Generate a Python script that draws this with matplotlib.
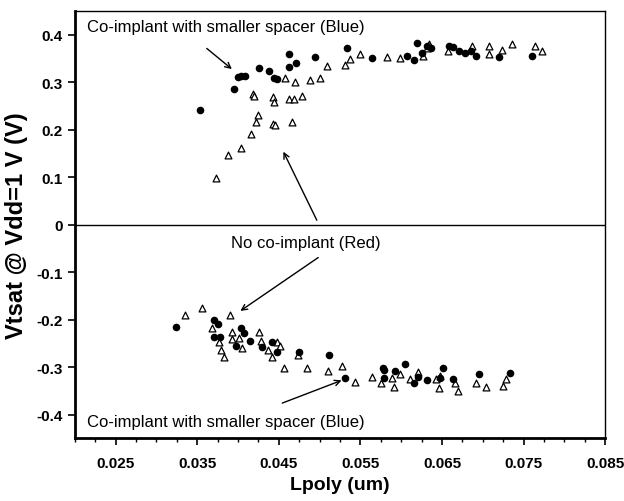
import matplotlib
matplotlib.use("Agg")
import matplotlib.pyplot as plt
from matplotlib.ticker import MultipleLocator, FixedLocator

plt.rcParams['font.family'] = ['Liberation Sans Narrow', 'Liberation Sans', 'DejaVu Sans']

# filled circles (co-implant with smaller spacer)
dot_x = [0.0353, 0.0395, 0.0400, 0.0404, 0.0408, 0.0426, 0.0438, 0.0444, 0.0448,
         0.0462, 0.0462, 0.0471, 0.0494, 0.0534, 0.0564, 0.0607, 0.0616, 0.0619,
         0.0625, 0.0631, 0.0636, 0.0658, 0.0663, 0.0671, 0.0678, 0.0685, 0.0692,
         0.0720, 0.0760,
         0.0324, 0.0371, 0.0375, 0.0371, 0.0378, 0.0398, 0.0403, 0.0407, 0.0415,
         0.0429, 0.0442, 0.0448, 0.0475, 0.0511, 0.0531, 0.0577, 0.0579, 0.0579,
         0.0592, 0.0605, 0.0616, 0.0620, 0.0631, 0.0648, 0.0651, 0.0663, 0.0695,
         0.0733]
dot_y = [0.241, 0.286, 0.312, 0.313, 0.314, 0.331, 0.324, 0.309, 0.307,
         0.360, 0.332, 0.340, 0.354, 0.373, 0.352, 0.355, 0.347, 0.383,
         0.361, 0.376, 0.373, 0.376, 0.375, 0.366, 0.362, 0.366, 0.356,
         0.354, 0.355,
         -0.215, -0.201, -0.210, -0.236, -0.236, -0.255, -0.217, -0.229, -0.246,
         -0.257, -0.248, -0.268, -0.269, -0.275, -0.324, -0.303, -0.306, -0.324,
         -0.308, -0.294, -0.333, -0.321, -0.327, -0.324, -0.303, -0.326, -0.315,
         -0.312]

# open triangles (no co-implant)
tri_x = [0.0373, 0.0388, 0.0403, 0.0416, 0.0418, 0.0419, 0.0422, 0.0425, 0.0443,
         0.0444, 0.0443, 0.0445, 0.0457, 0.0462, 0.0466, 0.0469, 0.0470, 0.0478,
         0.0488, 0.0501, 0.0509, 0.0531, 0.0537, 0.0549, 0.0583, 0.0599, 0.0627,
         0.0631, 0.0634, 0.0657, 0.0687, 0.0708, 0.0707, 0.0724, 0.0736, 0.0764,
         0.0773,
         0.0335, 0.0356, 0.0368, 0.0377, 0.0379, 0.0383, 0.0390, 0.0392, 0.0393,
         0.0401, 0.0405, 0.0426, 0.0428, 0.0437, 0.0441, 0.0448, 0.0451, 0.0456,
         0.0473, 0.0484, 0.0510, 0.0527, 0.0543, 0.0564, 0.0575, 0.0589, 0.0591,
         0.0599, 0.0611, 0.0620, 0.0643, 0.0646, 0.0648, 0.0666, 0.0670, 0.0691,
         0.0704, 0.0725, 0.0728]
tri_y = [0.098, 0.146, 0.161, 0.192, 0.276, 0.271, 0.216, 0.232, 0.269,
         0.258, 0.213, 0.209, 0.309, 0.264, 0.216, 0.264, 0.300, 0.271,
         0.305, 0.309, 0.335, 0.337, 0.348, 0.359, 0.354, 0.352, 0.355,
         0.373, 0.381, 0.366, 0.376, 0.376, 0.360, 0.368, 0.380, 0.376,
         0.366,
         -0.191, -0.175, -0.217, -0.248, -0.264, -0.278, -0.191, -0.227, -0.241,
         -0.238, -0.259, -0.227, -0.245, -0.264, -0.278, -0.248, -0.255, -0.301,
         -0.275, -0.303, -0.308, -0.298, -0.331, -0.322, -0.333, -0.324, -0.341,
         -0.315, -0.326, -0.310, -0.326, -0.345, -0.319, -0.333, -0.350, -0.334,
         -0.341, -0.339, -0.326]

x_ticks = [0.025, 0.035, 0.045, 0.055, 0.065, 0.075, 0.085]
y_ticks = [-0.4, -0.3, -0.2, -0.1, 0, 0.1, 0.2, 0.3, 0.4]
y_labels = ['-0.4', '-0.3', '-0.2', '-0.1', '0', '0.1', '0.2', '0.3', '0.4']

fig = plt.figure(figsize=(6.24, 5.02), dpi=100)
ax = fig.add_axes([0.120, 0.125, 0.850, 0.851])

ax.axhline(0, color='black', lw=1.0)
ax.scatter(tri_x, tri_y, marker='^', s=24, facecolors='white', edgecolors='black', linewidths=0.9, zorder=3)
ax.scatter(dot_x, dot_y, marker='o', s=20, color='black', zorder=4)

ax.set_xlim(0.020, 0.085)
ax.set_ylim(-0.45, 0.45)
ax.xaxis.set_major_locator(FixedLocator(x_ticks))
ax.xaxis.set_minor_locator(MultipleLocator(0.0025))
ax.set_xticklabels([f'{t:.3f}' for t in x_ticks])
ax.set_yticks(y_ticks)
ax.set_yticklabels(y_labels)
ax.tick_params(axis='both', which='major', direction='out', length=5, width=1.2, labelsize=11)
ax.tick_params(axis='x', which='minor', direction='out', length=3, width=1)
ax.tick_params(axis='x', which='major', pad=8)
for lab in ax.get_xticklabels() + ax.get_yticklabels():
    lab.set_fontweight('bold')

for side in ['left', 'bottom']:
    ax.spines[side].set_linewidth(2.0)
for side in ['top', 'right']:
    ax.spines[side].set_linewidth(1.0)

ax.set_xlabel('Lpoly (um)', fontsize=14, fontweight='bold', labelpad=4)
ax.set_ylabel('Vtsat @ Vdd=1 V (V)', fontsize=17, fontweight='bold', labelpad=6)

arrow = dict(arrowstyle='->', color='black', lw=1.0)
ax.text(0.0215, 0.418, 'Co-implant with smaller spacer (Blue)', fontsize=12, va='center', ha='left')
ax.annotate('', xy=(0.0395, 0.324), xytext=(0.0359, 0.375), arrowprops=arrow)

ax.text(0.0483, -0.038, 'No co-implant (Red)', fontsize=12, va='center', ha='center')
ax.annotate('', xy=(0.0454, 0.159), xytext=(0.0498, 0.004), arrowprops=arrow)
ax.annotate('', xy=(0.0400, -0.185), xytext=(0.0501, -0.066), arrowprops=arrow)

ax.text(0.0215, -0.415, 'Co-implant with smaller spacer (Blue)', fontsize=12, va='center', ha='left')
ax.annotate('', xy=(0.0530, -0.326), xytext=(0.0451, -0.378), arrowprops=arrow)

fig.savefig('out.png', dpi=100)
